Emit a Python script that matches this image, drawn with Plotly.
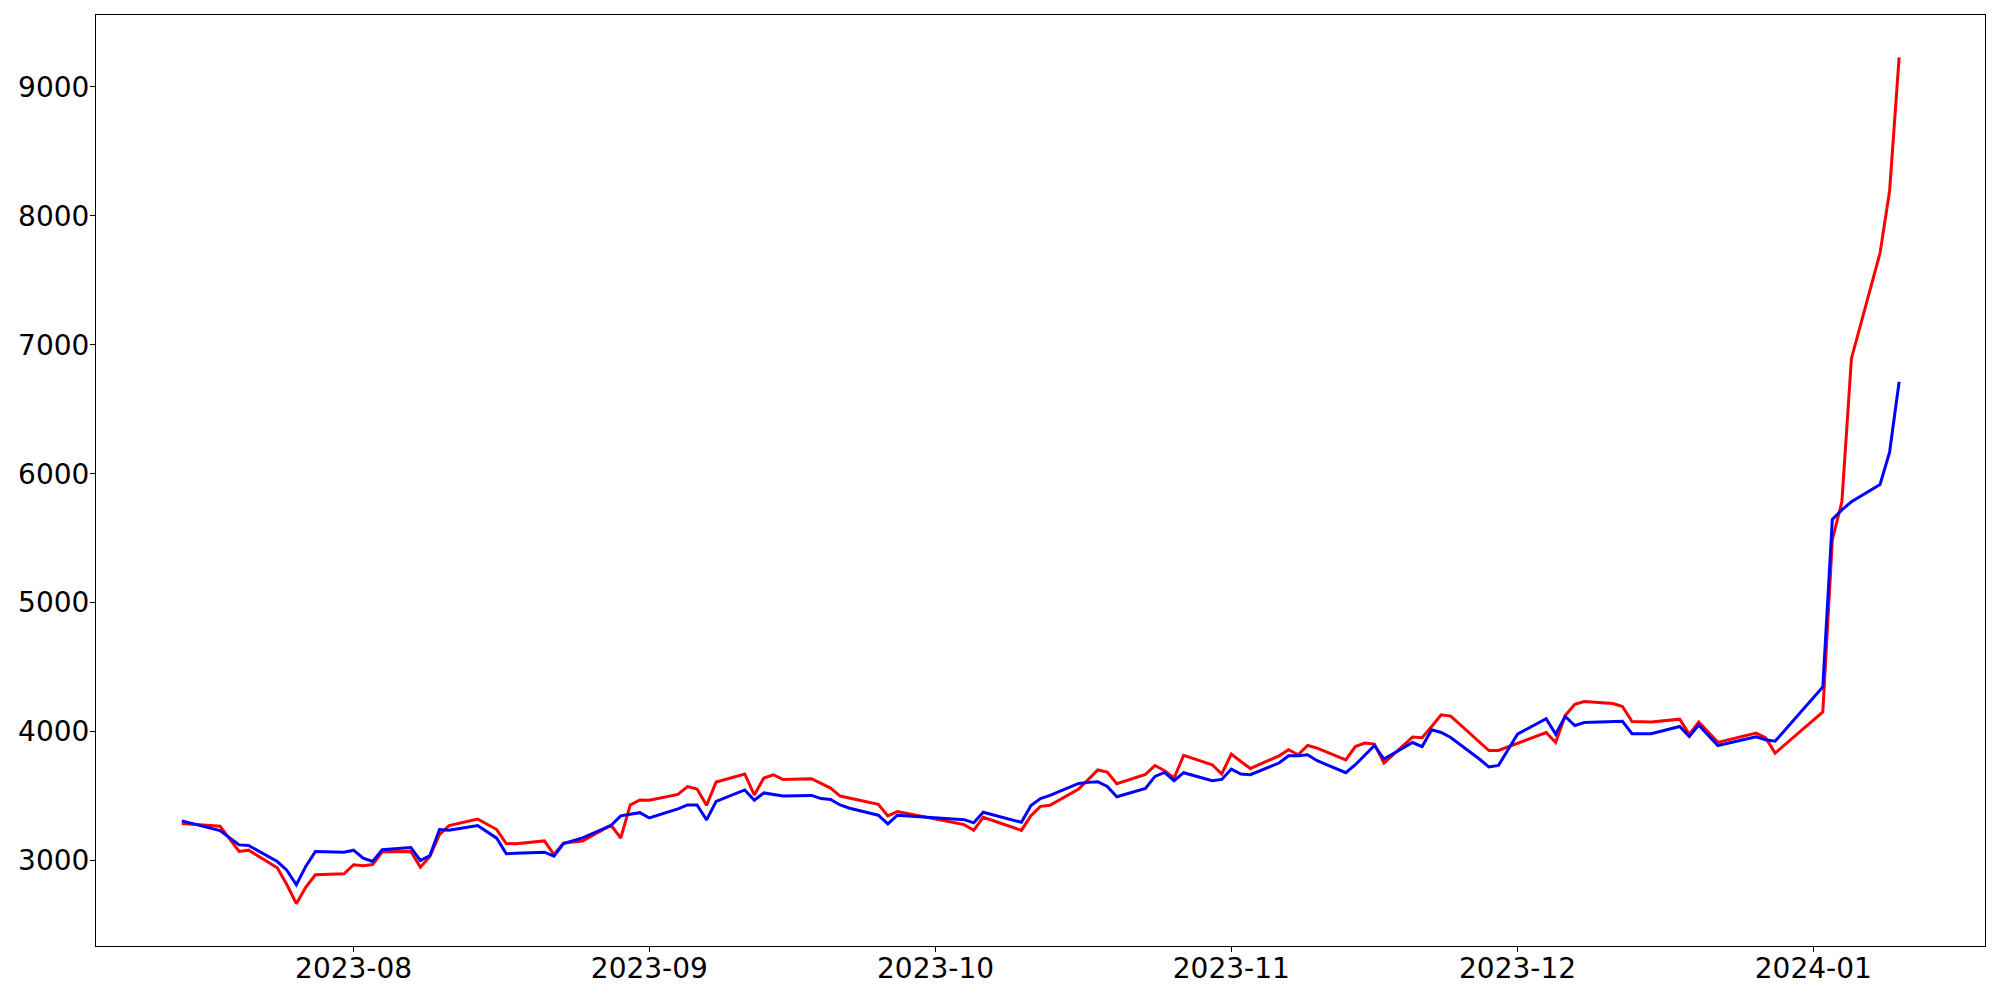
import pandas as pd
import plotly.graph_objects as go

dates = [
    "2023-07-14", "2023-07-18", "2023-07-20", "2023-07-21", "2023-07-24", "2023-07-25",
    "2023-07-26", "2023-07-27", "2023-07-28", "2023-07-31", "2023-08-01", "2023-08-02",
    "2023-08-03", "2023-08-04", "2023-08-07", "2023-08-08", "2023-08-09", "2023-08-10",
    "2023-08-11", "2023-08-14", "2023-08-16", "2023-08-17", "2023-08-18", "2023-08-21",
    "2023-08-22", "2023-08-23", "2023-08-25", "2023-08-28", "2023-08-29", "2023-08-30",
    "2023-08-31", "2023-09-01", "2023-09-04", "2023-09-05", "2023-09-06", "2023-09-07",
    "2023-09-08", "2023-09-11", "2023-09-12", "2023-09-13", "2023-09-14", "2023-09-15",
    "2023-09-18", "2023-09-19", "2023-09-20", "2023-09-21", "2023-09-22", "2023-09-25",
    "2023-09-26", "2023-09-27", "2023-10-04", "2023-10-05", "2023-10-06", "2023-10-10",
    "2023-10-11", "2023-10-12", "2023-10-13", "2023-10-16", "2023-10-17", "2023-10-18",
    "2023-10-19", "2023-10-20", "2023-10-23", "2023-10-24", "2023-10-25", "2023-10-26",
    "2023-10-27", "2023-10-30", "2023-10-31", "2023-11-01", "2023-11-02", "2023-11-03",
    "2023-11-06", "2023-11-07", "2023-11-08", "2023-11-09", "2023-11-10", "2023-11-13",
    "2023-11-14", "2023-11-15", "2023-11-16", "2023-11-17", "2023-11-20", "2023-11-21",
    "2023-11-22", "2023-11-23", "2023-11-24", "2023-11-27", "2023-11-28", "2023-11-29",
    "2023-12-01", "2023-12-04", "2023-12-05", "2023-12-06", "2023-12-07", "2023-12-08",
    "2023-12-11", "2023-12-12", "2023-12-13", "2023-12-15", "2023-12-18", "2023-12-19",
    "2023-12-20", "2023-12-22", "2023-12-26", "2023-12-27", "2023-12-28", "2024-01-02",
    "2024-01-03", "2024-01-04", "2024-01-05", "2024-01-08", "2024-01-09", "2024-01-10",
]

red_values = [
    3286, 3266, 3070, 3080, 2943, 2814,
    2665, 2794, 2889, 2897, 2967, 2959,
    2969, 3067, 3070, 2948, 3031, 3201,
    3271, 3322, 3240, 3132, 3129, 3152,
    3046, 3135, 3150, 3273, 3173, 3431,
    3470, 3467, 3513, 3573, 3555, 3428,
    3609, 3671, 3508, 3640, 3665, 3629,
    3634, 3596, 3562, 3500, 3485, 3436,
    3346, 3379, 3278, 3234, 3335, 3234,
    3348, 3420, 3428, 3555, 3627, 3702,
    3686, 3596, 3668, 3737, 3696, 3640,
    3815, 3743, 3671, 3826, 3768, 3714,
    3812, 3859, 3820, 3892, 3872, 3781,
    3884, 3911, 3903, 3756, 3957, 3952,
    4039, 4130, 4120, 3918, 3853, 3853,
    3910, 3993, 3915, 4125, 4212, 4233,
    4217, 4194, 4078, 4075, 4096, 3978,
    4074, 3916, 3988, 3952, 3833, 4152,
    5489, 5782, 6894, 7712, 8194, 9230,
]

blue_values = [
    3307, 3232, 3121, 3116, 2992, 2925,
    2812, 2956, 3070, 3064, 3080, 3018,
    2992, 3083, 3101, 3000, 3039, 3240,
    3234, 3271, 3173, 3052, 3056, 3064,
    3033, 3132, 3175, 3273, 3346, 3358,
    3371, 3330, 3400, 3431, 3431, 3315,
    3459, 3547, 3467, 3524, 3511, 3500,
    3505, 3480, 3474, 3431, 3405, 3351,
    3284, 3351, 3317, 3292, 3374, 3296,
    3426, 3480, 3505, 3598, 3606, 3611,
    3575, 3495, 3559, 3652, 3683, 3619,
    3681, 3619, 3629, 3709, 3671, 3665,
    3756, 3812, 3812, 3820, 3774, 3681,
    3743, 3815, 3892, 3787, 3915, 3884,
    4014, 3993, 3954, 3787, 3725, 3737,
    3980, 4100, 3980, 4117, 4047, 4070,
    4075, 4080, 3983, 3983, 4039, 3962,
    4050, 3892, 3960, 3936, 3925, 4346,
    5645, 5720, 5782, 5917, 6168, 6714,
]

month_ticks = ["2023-08-01", "2023-09-01", "2023-10-01", "2023-11-01", "2023-12-01", "2024-01-01"]
month_labels = ["2023-08", "2023-09", "2023-10", "2023-11", "2023-12", "2024-01"]
y_ticks = [3000, 4000, 5000, 6000, 7000, 8000, 9000]

# matplotlib-style 5% padding around the data
x = pd.to_datetime(pd.Series(dates))
x_pad = (x.max() - x.min()) * 0.05
x_range = [x.min() - x_pad, x.max() + x_pad]
y_all = red_values + blue_values
y_pad = (max(y_all) - min(y_all)) * 0.05
y_range = [min(y_all) - y_pad, max(y_all) + y_pad]

fig = go.Figure()
fig.add_trace(go.Scatter(x=dates, y=red_values, mode="lines",
                         line=dict(color="red", width=3), showlegend=False))
fig.add_trace(go.Scatter(x=dates, y=blue_values, mode="lines",
                         line=dict(color="blue", width=3), showlegend=False))

axis_style = dict(showline=True, linecolor="black", linewidth=1.1, mirror=True,
                  showgrid=False, zeroline=False, ticks="outside", ticklen=5,
                  tickwidth=1.1, tickcolor="black", automargin=False,
                  tickfont=dict(family="DejaVu Sans", size=28, color="black"))

fig.update_xaxes(range=x_range, tickvals=month_ticks, ticktext=month_labels,
                 ticklabelstandoff=-8, **axis_style)
fig.update_yaxes(range=y_range, tickvals=y_ticks, ticklabelstandoff=-5, **axis_style)

# page body adds ~8px offset, margins compensate for it
fig.update_layout(width=2000, height=1000,
                  margin=dict(l=88, r=23, t=7, b=62),
                  plot_bgcolor="white", paper_bgcolor="white",
                  font=dict(family="DejaVu Sans", size=28, color="black"))

fig.write_html("out.html")
